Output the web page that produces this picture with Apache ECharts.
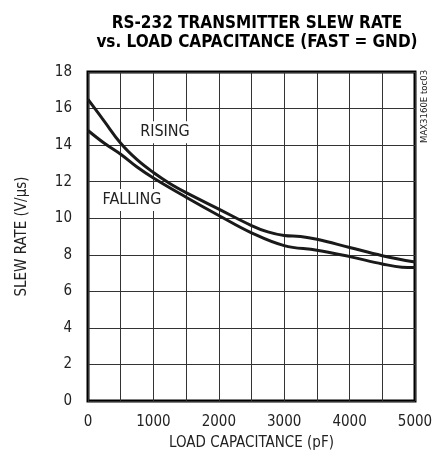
<!DOCTYPE html>
<html><head><meta charset="utf-8">
<script src="https://cdn.jsdelivr.net/npm/echarts@6/dist/echarts.min.js"></script>
<style>html,body{margin:0;padding:0;background:#fff}#c{width:442px;height:461px}</style>
</head><body><div id="c"></div>
<script>
const titleLines = ['RS-232 TRANSMITTER SLEW RATE', 'vs. LOAD CAPACITANCE (FAST = GND)'];
const xName = 'LOAD CAPACITANCE (pF)';
const yName = 'SLEW RATE (V/\u03bcs)';
const sideNote = 'MAX3160E toc03';
const capacitance = [0, 250, 500, 750, 1000, 1250, 1500, 2000, 2500, 2750, 3000, 3250, 3500, 4000, 4500, 5000];
const rising =      [16.5, 15.3, 14.1, 13.2, 12.5, 11.9, 11.4, 10.5, 9.6, 9.25, 9.05, 9.0, 8.85, 8.4, 7.95, 7.6];
const fallCap = [0, 250, 500, 750, 1000, 1500, 2000, 2500, 3000, 3500, 4000, 4500, 4800, 5000];
const falling = [14.8, 14.1, 13.5, 12.8, 12.2, 11.15, 10.15, 9.2, 8.5, 8.25, 7.9, 7.5, 7.32, 7.3];
const labelRising = {text: 'RISING', x: 1177, y: 14.7};
const labelFalling = {text: 'FALLING', x: 673, y: 11.0};

const FONT = '"DejaVu Sans Condensed", "Liberation Sans Narrow", Arial, sans-serif';
const chart = echarts.init(document.getElementById('c'));
chart.setOption({
  animation: false,
  title: {
    text: titleLines.join('\n'), left: 252, top: 9, textAlign: 'center',
    textStyle: {fontFamily: FONT, fontWeight: 'bold', fontSize: 17, lineHeight: 19, color: '#000'}
  },
  grid: {left: 88, top: 72, right: 27, bottom: 60, show: true, borderColor: '#000', borderWidth: 3, containLabel: false},
  xAxis: {
    type: 'value', min: 0, max: 5000, interval: 500,
    name: xName, nameLocation: 'middle', nameGap: 35,
    nameTextStyle: {fontFamily: FONT, fontSize: 15, color: '#222'},
    axisLine: {show: false}, axisTick: {show: false},
    axisLabel: {fontFamily: FONT, fontSize: 15, color: '#222', margin: 14,
      formatter: v => (v % 1000 === 0 ? String(v) : '')},
    splitLine: {show: true, lineStyle: {color: '#333', width: 1}}
  },
  yAxis: {
    type: 'value', min: 0, max: 18, interval: 2,
    name: yName, nameLocation: 'middle', nameGap: 58, nameRotate: 90,
    nameTextStyle: {fontFamily: FONT, fontSize: 15, color: '#222'},
    axisLine: {show: false}, axisTick: {show: false},
    axisLabel: {fontFamily: FONT, fontSize: 15, color: '#222', margin: 16},
    splitLine: {show: true, lineStyle: {color: '#333', width: 1}}
  },
  graphic: [{
    type: 'text', x: 430, y: 143, rotation: Math.PI / 2,
    style: {text: sideNote, fontFamily: FONT, fontSize: 9.5, fill: '#222', textAlign: 'left', textVerticalAlign: 'bottom'}
  }],
  series: [
    {
      type: 'line', data: capacitance.map((c, i) => [c, rising[i]]),
      smooth: 0.4, showSymbol: false, lineStyle: {color: '#1a1a1a', width: 3}, z: 3,
      markPoint: {
        symbol: 'rect', symbolSize: 0,
        label: {show: true, position: 'inside', fontFamily: FONT, fontSize: 16, color: '#222',
          backgroundColor: '#fff', padding: [3, 4]},
        data: [
          {coord: [labelRising.x, labelRising.y], value: labelRising.text, label: {formatter: labelRising.text}},
          {coord: [labelFalling.x, labelFalling.y], value: labelFalling.text, label: {formatter: labelFalling.text}}
        ]
      }
    },
    {
      type: 'line', data: fallCap.map((c, i) => [c, falling[i]]),
      smooth: 0.4, showSymbol: false, lineStyle: {color: '#1a1a1a', width: 3}, z: 3
    }
  ]
});
</script></body></html>
